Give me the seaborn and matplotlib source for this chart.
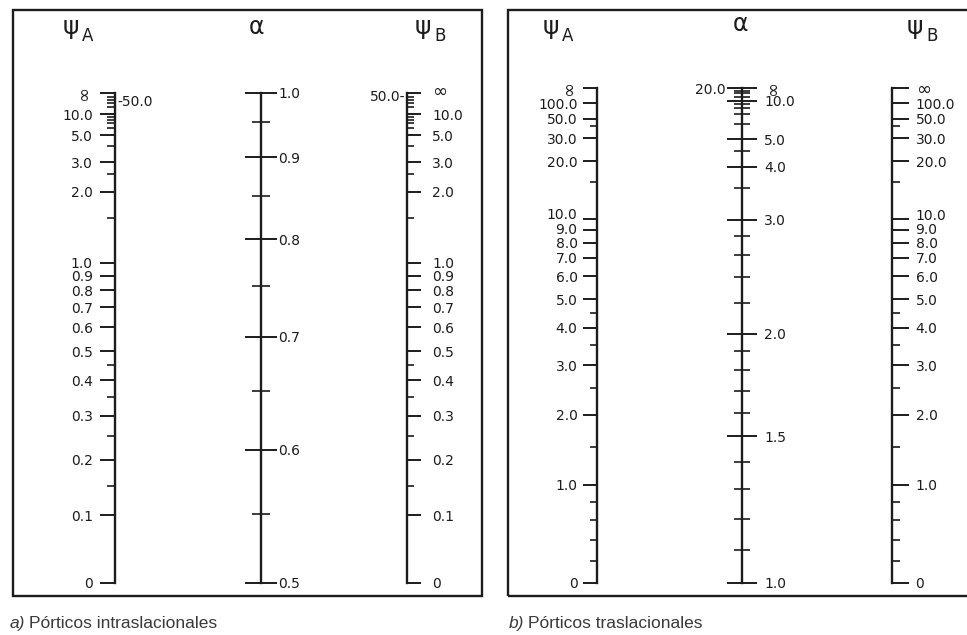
"""Alignment charts (nomographs) for the effective length factor alpha.

Two panels: a) braced frames, b) sway frames. Each panel has three parallel
scales (psi_A, alpha, psi_B) drawn as single-spine axes with custom function
scales. The alpha scales are tied to the psi scales through the symmetric
case psi_A = psi_B (a horizontal line joins equal psi values).
"""
import numpy as np
import matplotlib
matplotlib.use("Agg")
import matplotlib.pyplot as plt
import matplotlib.transforms as mtransforms
import seaborn as sns
from matplotlib.patches import Rectangle

W, H = 967, 635
INF = 1e6  # value used for the "∞" end of the scales

# ---- panel a) Porticos intraslacionales --------------------------------
psi_a_major = [INF, 10, 5, 3, 2, 1, 0.9, 0.8, 0.7, 0.6, 0.5, 0.4, 0.3, 0.2, 0.1, 0]
psi_a_labels = ["∞", "10.0", "5.0", "3.0", "2.0", "1.0", "0.9", "0.8", "0.7",
                "0.6", "0.5", "0.4", "0.3", "0.2", "0.1", "0"]
psi_a_minor = [50, 30, 20, 15, 9, 8, 7, 6, 4, 2.5, 1.5, 0.45, 0.35, 0.25, 0.15]
k_a_major = [1.0, 0.9, 0.8, 0.7, 0.6, 0.5]
k_a_labels = ["1.0", "0.9", "0.8", "0.7", "0.6", "0.5"]
k_a_minor = [0.95, 0.85, 0.75, 0.65, 0.55]

# ---- panel b) Porticos traslacionales ----------------------------------
psi_b_major = [INF, 100, 50, 30, 20, 10, 9, 8, 7, 6, 5, 4, 3, 2, 1, 0]
psi_b_labels = ["∞", "100.0", "50.0", "30.0", "20.0", "10.0", "9.0", "8.0", "7.0",
                "6.0", "5.0", "4.0", "3.0", "2.0", "1.0", "0"]
psi_b_minor = [40, 15, 4.5, 3.5, 2.5, 1.5, 0.8, 0.6, 0.4, 0.2]
k_b_major = [INF, 10, 5, 4, 3, 2, 1.5, 1.0]
k_b_labels = ["∞", "10.0", "5.0", "4.0", "3.0", "2.0", "1.5", "1.0"]
k_b_minor = [20, 15, 12, 9, 8, 7, 6, 4.5, 3.5, 2.8, 2.6, 2.4, 2.2,
             1.9, 1.8, 1.7, 1.6, 1.4, 1.3, 1.2, 1.1]

# psi scale shape (log-logistic)
PSI_SHAPE_A = (1.07, 0.531)
PSI_SHAPE_B = (1.05, 4.03)


def psi_pos(G, p, c):
    G = np.clip(np.asarray(G, dtype=float), 0, None)
    Gp = G ** p
    return Gp / (Gp + c)


def psi_inv(f, p, c):
    f = np.clip(np.asarray(f, dtype=float), 0, 1 - 1e-12)
    return (c * f / (1 - f)) ** (1 / p)


def g_braced(K):
    # psi_A = psi_B = G that gives alpha = K for braced frames
    with np.errstate(all="ignore"):
        K = np.clip(np.asarray(K, dtype=float), 0.5 + 1e-9, 1 - 1e-9)
        x = np.pi / K
        a = x / np.tan(x)
        A = x ** 2 / 4
        B = 1 - a
        C = 2 * np.tan(x / 2) / x - 1
        D = np.sqrt(B ** 2 - 4 * A * C)
        return np.where(B < 0, (-B + D) / (2 * A), -2 * C / (B + D))


def g_sway(K):
    # psi_A = psi_B = G that gives alpha = K for sway frames
    with np.errstate(all="ignore"):
        K = np.clip(np.asarray(K, dtype=float), 1 + 1e-9, None)
        x = np.pi / K
        a = x / np.tan(x)
        r = np.sqrt(a ** 2 + x ** 2)
        return np.where(a < 0, 6 / (r - a), 6 * (r + a) / x ** 2)


def make_funcs(g_of_k, shape, grid):
    fwd = lambda K: psi_pos(g_of_k(K), *shape)
    fgrid = fwd(grid)

    def inv(f):
        f = np.asarray(f, dtype=float)
        return np.interp(np.ravel(f), fgrid, grid).reshape(f.shape)
    return fwd, inv


sns.set_style("white")
plt.rcParams["font.family"] = ["DejaVu Sans"]
INK = "#1c1c1c"

fig = plt.figure(figsize=(W / 100, H / 100), dpi=100)


def scale_axis(x_px, top_px, bot_px, side, funcs, lims, major, labels, minor,
               direction, lmaj, lmin, pad):
    w = 0.02
    h = (bot_px - top_px) / H
    b = 1 - bot_px / H
    left = x_px / W if side == "left" else x_px / W - w
    ax = fig.add_axes([left, b, w, h])
    ax.patch.set_alpha(0)
    ax.set_yscale("function", functions=funcs)
    ax.set_ylim(*lims)
    ax.set_xticks([])
    sns.despine(ax=ax, top=True, bottom=True, left=(side != "left"), right=(side == "left"))
    ax.spines[side].set_linewidth(1.7)
    ax.spines[side].set_color(INK)
    ax.yaxis.set_ticks_position(side)
    ax.set_yticks(major, labels=labels)
    ax.set_yticks(minor, minor=True)
    ax.tick_params(axis="y", which="major", direction=direction, length=lmaj,
                   width=1.4, pad=pad, labelsize=10, colors=INK)
    ax.tick_params(axis="y", which="minor", direction=direction, length=lmin,
                   width=1.2, colors=INK)
    for lab in ax.get_yticklabels():
        if lab.get_text() == "∞":
            lab.set_fontsize(13)
    return ax


def rotate_inf(ax):
    for lab in ax.get_yticklabels():
        if lab.get_text() == "∞":
            lab.set_rotation(90)


def nudge(ax, text, dy_px):
    # crowded labels are set a little off their tick, as in the printed chart
    for lab in ax.get_yticklabels():
        if lab.get_text() == text:
            lab.set_transform(lab.get_transform() +
                              mtransforms.ScaledTranslation(0, dy_px / 100, fig.dpi_scale_trans))


# ---- panel a axes ------------------------------------------------------
psi_a_funcs = (lambda G: psi_pos(G, *PSI_SHAPE_A), lambda f: psi_inv(f, *PSI_SHAPE_A))
k_a_funcs = make_funcs(g_braced, PSI_SHAPE_A, np.linspace(0.5, 1.0, 4001))

ax_pa = scale_axis(115, 93, 583, "left", psi_a_funcs, (0, INF), psi_a_major,
                   psi_a_labels, psi_a_minor, "out", 11, 6, 5)
rotate_inf(ax_pa)
ax_pa.annotate("-50.0", xy=(0, 50), xycoords=("axes fraction", "data"),
               xytext=(2, -4), textcoords="offset points", ha="left", va="center",
               fontsize=10, color=INK)

ax_ka = scale_axis(261, 93, 583, "right", k_a_funcs, (0.5, 1.0), k_a_major,
                   k_a_labels, k_a_minor, "inout", 23, 13, 1)

ax_pb_a = scale_axis(407, 93, 583, "right", psi_a_funcs, (0, INF), psi_a_major,
                     psi_a_labels, psi_a_minor, "out", 10, 5, 8)
nudge(ax_pb_a, "∞", 3)
ax_pb_a.annotate("50.0-", xy=(1, 50), xycoords=("axes fraction", "data"),
                 xytext=(-1, 0), textcoords="offset points", ha="right", va="center",
                 fontsize=10, color=INK)

# ---- panel b axes ------------------------------------------------------
psi_b_funcs = (lambda G: psi_pos(G, *PSI_SHAPE_B), lambda f: psi_inv(f, *PSI_SHAPE_B))
k_b_funcs = make_funcs(g_sway, PSI_SHAPE_B, 1 / np.linspace(1.0, 1e-6, 6001))

ax_pa_b = scale_axis(597, 88, 583, "left", psi_b_funcs, (0, INF), psi_b_major,
                     psi_b_labels, psi_b_minor, "out", 10, 5, 4)
rotate_inf(ax_pa_b)
nudge(ax_pa_b, "10.0", 5)
nudge(ax_pa_b, "9.0", 1)

ax_kb = scale_axis(742, 88, 583, "right", k_b_funcs, (1.0, INF), k_b_major,
                   k_b_labels, k_b_minor, "inout", 22, 12, 5)
rotate_inf(ax_kb)
ax_kb.annotate("20.0", xy=(1, 20), xycoords=("axes fraction", "data"),
               xytext=(-12, 1), textcoords="offset points", ha="right", va="center",
               fontsize=10, color=INK)

ax_pb_b = scale_axis(892, 88, 583, "right", psi_b_funcs, (0, INF), psi_b_major,
                     psi_b_labels, psi_b_minor, "out", 12, 6, 5)
nudge(ax_pb_b, "10.0", 4)
nudge(ax_pb_b, "9.0", 1)

# ---- frames, headers, captions -----------------------------------------
for x0, x1 in [(13, 482), (508, 975)]:
    fig.patches.append(Rectangle((x0 / W, 1 - 596 / H), (x1 - x0) / W, 586 / H,
                                 transform=fig.transFigure, fill=False,
                                 edgecolor=INK, linewidth=1.7))

for xpsi, sub in [(71, "A"), (423, "B"), (551, "A"), (915, "B")]:
    fig.text(xpsi / W, 1 - 27 / H, "ψ", fontsize=18, ha="center", va="center", color=INK)
    fig.text((xpsi + 17) / W, 1 - 36 / H, sub, fontsize=12, ha="center", va="center", color=INK)
for xa, ya in [(257, 27), (740, 24)]:
    fig.text(xa / W, 1 - ya / H, "α", fontsize=17, ha="center", va="center", color=INK)

CAP = "#3a3a3a"
fig.text(10 / W, 1 - 628 / H, "a)", fontsize=12.5, style="italic", family="Liberation Sans",
         color=CAP, va="baseline")
fig.text(29 / W, 1 - 628 / H, "Pórticos intraslacionales", fontsize=12.5,
         family="Liberation Sans", color=CAP, va="baseline")
fig.text(509 / W, 1 - 628 / H, "b)", fontsize=12.5, style="italic", family="Liberation Sans",
         color=CAP, va="baseline")
fig.text(528 / W, 1 - 628 / H, "Pórticos traslacionales", fontsize=12.5,
         family="Liberation Sans", color=CAP, va="baseline")

fig.savefig("out.png", dpi=100, facecolor="white")
